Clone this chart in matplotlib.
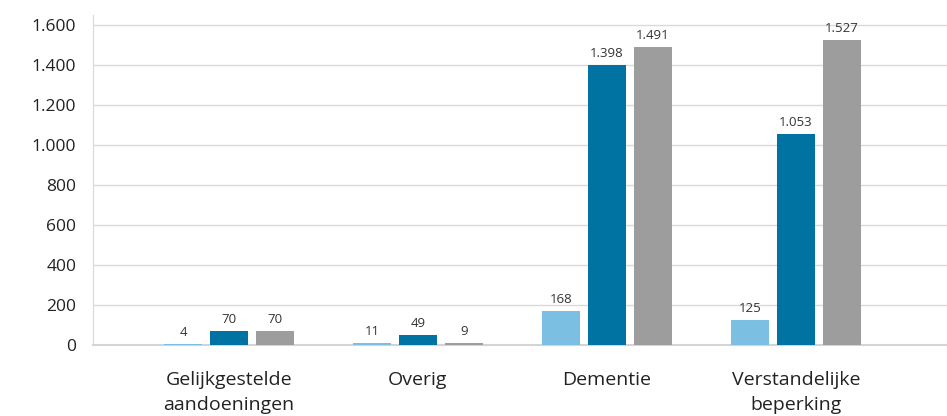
import numpy as np
import matplotlib.pyplot as plt

plt.rcParams['font.family'] = ['Open Sans', 'DejaVu Sans']

categories = ['Gelijkgestelde\naandoeningen', 'Overig', 'Dementie', 'Verstandelijke\nbeperking']
series1 = [4, 11, 168, 125]
series2 = [70, 49, 1398, 1053]
series3 = [70, 9, 1491, 1527]
yticks = [0, 200, 400, 600, 800, 1000, 1200, 1400, 1600]

colors = ['#7bbfe2', '#0073a3', '#9c9d9c']


def fmt(v):
    # dutch thousands separator
    return f'{v:,}'.replace(',', '.')


fig = plt.figure(figsize=(9.47, 4.16), dpi=100)
ax = fig.add_axes([0.098, 0.171, 0.902, 0.793])

x = np.arange(len(categories))
width = 0.2
step = 0.243

for i, (vals, c) in enumerate(zip([series1, series2, series3], colors)):
    pos = x + (i - 1) * step
    bars = ax.bar(pos, vals, width=width, color=c, zorder=3)
    for b, v in zip(bars, vals):
        ax.text(b.get_x() + b.get_width() / 2, v + 25, fmt(v),
                ha='center', va='bottom', fontsize=9.5, color='#333333')

ax.set_xlim(-0.72, 3.8)
ax.set_ylim(0, 1650)
ax.set_yticks(yticks)
ax.set_yticklabels([fmt(t) for t in yticks], fontsize=12.5, color='#222222')
ax.set_xticks(x)
ax.set_xticklabels(categories, fontsize=14, color='#222222', linespacing=1.5)
ax.tick_params(axis='both', length=0)
ax.tick_params(axis='x', pad=19)
ax.tick_params(axis='y', pad=12)

ax.grid(axis='y', color='#d9d9d9', linewidth=1, zorder=0)
for s in ['top', 'right']:
    ax.spines[s].set_visible(False)
ax.spines['left'].set_color('#d9d9d9')
ax.spines['bottom'].set_color('#d4d4d4')
ax.spines['bottom'].set_linewidth(1.5)

fig.savefig('out.png', dpi=100)
